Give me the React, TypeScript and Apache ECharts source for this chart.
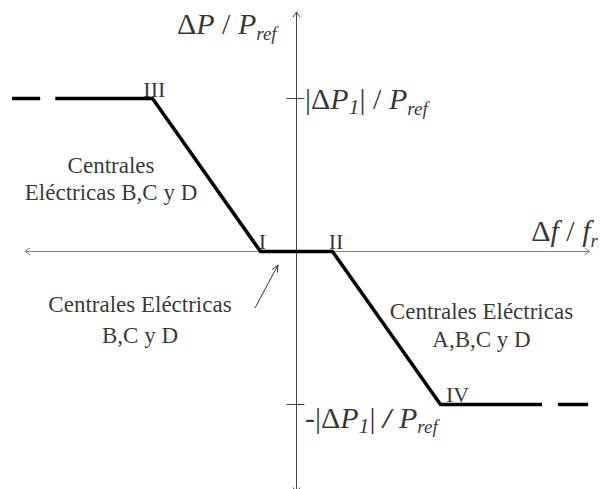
import React, { useEffect, useRef } from "react";
import * as echarts from "echarts";

// Frequency-droop characteristic (x: Δf/fref, y: ΔP/Pref, normalised units)
const droopX = [-3.35, -2, -0.5, 0.5, 2, 3.41];
const droopY = [1, 1, 0, 0, -1, -1];
const leftDashX = [-3.95, -3.56];
const leftDashY = [1, 1];
const rightDashX = [3.63, 4.05];
const rightDashY = [-1, -1];

// Coordinate axes: [x1, y1, x2, y2, arrow at start, arrow at end]
const axisSegments = [
  [-3.77, 0, 4.07, 0, 1, 1],
  [0, -1.575, 0, 1.565, 1, 1],
];
// Tick marks on the power axis at ±|ΔP1|/Pref
const tickLevels = [1, -1];
// Pointer from the lower-left note to the dead band
const pointerSegment = [[-0.576, -0.369, -0.257, -0.088]];

// Breakpoint names
const pointNames = ["III", "I", "II", "IV"];
const pointNameX = [-1.975, -0.472, 0.549, 2.236];
const pointNameY = [1.056, 0.065, 0.065, -0.935];

// Notes about which power plants respond in each region
const plantTexts = [
  "Centrales\nEléctricas B,C y D",
  "Centrales Eléctricas\nB,C y D",
  "Centrales Eléctricas\nA,B,C y D",
];
const plantX = [-2.576, -2.174, 2.569];
const plantY = [0.474, -0.448, -0.485];
const plantLineHeights = [27, 31, 28.5];

// Axis titles and tick labels (rich text)
const mathTexts = [
  "{u|Δ}{i|P}{u| / }{i|P}{s|ref}",
  "{u||Δ}{i|P}{n|1}{u|| / }{i|P}{s|ref}",
  "{u|-|Δ}{i|P}{n|1}{u||}{b| / }{i|P}{s|ref}",
  "{u|Δ}{i|f}{u| / }{i|f}{s|r}",
];
const mathX = [-1.66, 0.118, 0.118, 3.26];
const mathY = [1.487, 0.997, -1.082, 0.134];

const SERIF = "'Liberation Serif', 'Times New Roman', serif";

const pairs = (xs: number[], ys: number[]) => xs.map((x, i) => [x, ys[i]]);

function chevron(tip: number[], from: number[], len: number, half: number) {
  const dx = tip[0] - from[0];
  const dy = tip[1] - from[1];
  const d = Math.hypot(dx, dy) || 1;
  const ux = dx / d;
  const uy = dy / d;
  const bx = tip[0] - ux * len;
  const by = tip[1] - uy * len;
  return [
    [bx - uy * half, by + ux * half],
    [tip[0], tip[1]],
    [bx + uy * half, by - ux * half],
  ];
}

const mathRich = {
  u: { fontFamily: SERIF, fontSize: 30, lineHeight: 38, verticalAlign: "middle", color: "#000" },
  i: { fontFamily: SERIF, fontSize: 30, fontStyle: "italic", lineHeight: 38, verticalAlign: "middle", color: "#000" },
  b: { fontFamily: SERIF, fontSize: 30, fontWeight: "bold", fontStyle: "italic", lineHeight: 38, verticalAlign: "middle", color: "#000" },
  n: { fontFamily: SERIF, fontSize: 22, fontStyle: "italic", lineHeight: 30, verticalAlign: "bottom", color: "#000" },
  s: { fontFamily: SERIF, fontSize: 19, fontStyle: "italic", lineHeight: 21, verticalAlign: "bottom", color: "#000" },
};

export default function App() {
  const ref = useRef<HTMLDivElement>(null);

  useEffect(() => {
    if (!ref.current) return;
    const chart = echarts.init(ref.current, undefined, { renderer: "svg" });

    const option: any = {
      animation: false,
      backgroundColor: "#fff",
      grid: { left: 0, right: 0, top: 0, bottom: 0, containLabel: false },
      xAxis: {
        type: "value",
        min: -4.118,
        max: 4.215,
        show: false,
        splitLine: { show: false },
      },
      yAxis: {
        type: "value",
        min: -1.5523,
        max: 1.6438,
        show: false,
        splitLine: { show: false },
      },
      series: [
        {
          type: "custom",
          name: "axes",
          silent: true,
          clip: false,
          encode: { x: [0, 2], y: [1, 3] },
          data: axisSegments,
          renderItem: (params: any, api: any) => {
            const a = api.coord([api.value(0), api.value(1)]);
            const b = api.coord([api.value(2), api.value(3)]);
            const color = params.dataIndex === 0 ? "#808080" : "#444";
            const style = { stroke: color, lineWidth: 1, fill: null };
            const children: any[] = [
              { type: "line", shape: { x1: a[0], y1: a[1], x2: b[0], y2: b[1] }, style },
            ];
            if (api.value(4)) children.push({ type: "polyline", shape: { points: chevron(a, b, 5, 3.5) }, style });
            if (api.value(5)) children.push({ type: "polyline", shape: { points: chevron(b, a, 5, 3.5) }, style });
            return { type: "group", children };
          },
        },
        {
          type: "custom",
          name: "ticks",
          silent: true,
          clip: false,
          data: tickLevels.map((v) => [0, v]),
          renderItem: (_params: any, api: any) => {
            const p = api.coord([api.value(0), api.value(1)]);
            return {
              type: "line",
              shape: { x1: p[0] - 10, y1: p[1], x2: p[0] + 8, y2: p[1] },
              style: { stroke: "#444", lineWidth: 1 },
            };
          },
        },
        {
          type: "custom",
          name: "pointer",
          silent: true,
          clip: false,
          encode: { x: [0, 2], y: [1, 3] },
          data: pointerSegment,
          renderItem: (_params: any, api: any) => {
            const a = api.coord([api.value(0), api.value(1)]);
            const b = api.coord([api.value(2), api.value(3)]);
            const style = { stroke: "#333", lineWidth: 1, fill: null };
            return {
              type: "group",
              children: [
                { type: "line", shape: { x1: a[0], y1: a[1], x2: b[0], y2: b[1] }, style },
                { type: "polyline", shape: { points: chevron(b, a, 7, 3) }, style },
              ],
            };
          },
        },
        {
          type: "line",
          name: "droop",
          data: pairs(droopX, droopY),
          symbol: "none",
          silent: true,
          lineStyle: { color: "#000", width: 3.5, cap: "butt", join: "miter" },
          z: 3,
        },
        {
          type: "line",
          name: "leftTail",
          data: pairs(leftDashX, leftDashY),
          symbol: "none",
          silent: true,
          lineStyle: { color: "#000", width: 3.5, cap: "butt" },
          z: 3,
        },
        {
          type: "line",
          name: "rightTail",
          data: pairs(rightDashX, rightDashY),
          symbol: "none",
          silent: true,
          lineStyle: { color: "#000", width: 3.5, cap: "butt" },
          z: 3,
        },
        {
          type: "scatter",
          name: "pointNames",
          symbolSize: 0,
          silent: true,
          z: 4,
          data: pointNames.map((n, i) => ({ value: [pointNameX[i], pointNameY[i]], name: n })),
          label: {
            show: true,
            position: "inside",
            formatter: (p: any) => p.name,
            align: "center",
            verticalAlign: "middle",
            fontFamily: SERIF,
            fontSize: 22,
            color: "#000",
          },
        },
        {
          type: "scatter",
          name: "plants",
          symbolSize: 0,
          silent: true,
          z: 4,
          data: plantTexts.map((t, i) => ({
            value: [plantX[i], plantY[i]],
            name: t,
            label: { lineHeight: plantLineHeights[i] },
          })),
          label: {
            show: true,
            position: "inside",
            formatter: (p: any) => p.name,
            align: "center",
            verticalAlign: "middle",
            fontFamily: SERIF,
            fontSize: 23,
            color: "#000",
          },
        },
        {
          type: "scatter",
          name: "axisTitles",
          symbolSize: 0,
          silent: true,
          z: 4,
          data: mathTexts.map((t, i) => ({ value: [mathX[i], mathY[i]], name: t })),
          label: {
            show: true,
            position: "inside",
            formatter: (p: any) => p.name,
            align: "left",
            verticalAlign: "middle",
            rich: mathRich,
          },
        },
      ],
    };

    chart.setOption(option);
    return () => chart.dispose();
  }, []);

  return (
    <div
      ref={ref}
      style={{ position: "absolute", left: 0, top: 0, width: 600, height: 489 }}
    />
  );
}
